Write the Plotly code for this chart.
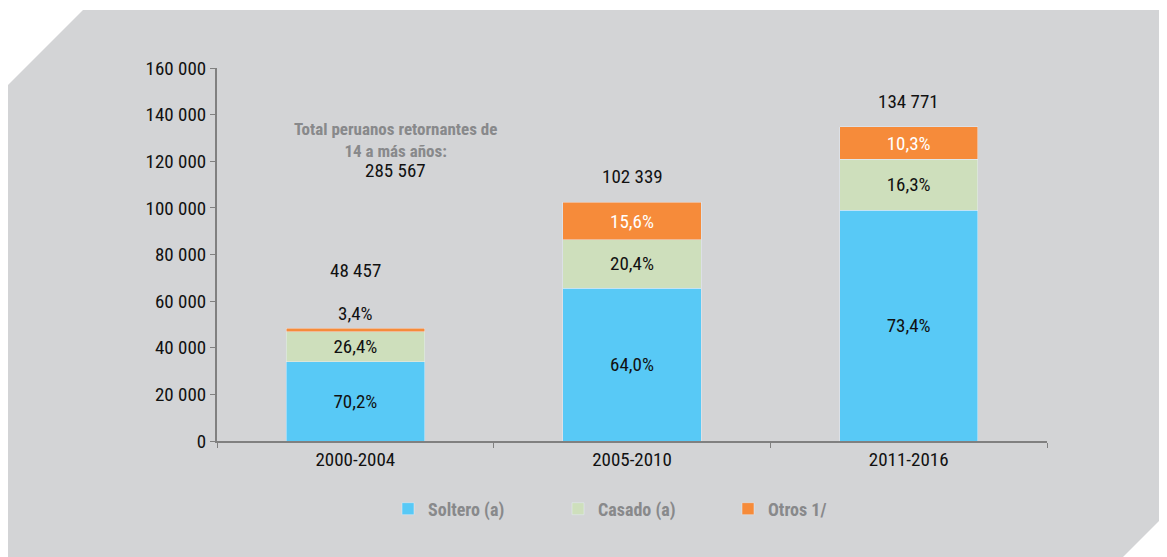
import plotly.graph_objects as go

categories = ["2000-2004", "2005-2010", "2011-2016"]
soltero = [34017, 65497, 98922]
casado = [12793, 20877, 21968]
otros = [1648, 15965, 13881]
totals = [48457, 102339, 134771]
soltero_pct = ["70,2%", "64,0%", "73,4%"]
casado_pct = ["26,4%", "20,4%", "16,3%"]
otros_pct = ["3,4%", "15,6%", "10,3%"]
total_labels = ["48 457", "102 339", "134 771"]
y_ticks = [0, 20000, 40000, 60000, 80000, 100000, 120000, 140000, 160000]
y_tick_labels = ["0", "20 000", "40 000", "60 000", "80 000", "100 000", "120 000", "140 000", "160 000"]

FONT = "Liberation Sans Narrow, Roboto Condensed, Arial Narrow, Liberation Sans, sans-serif"
BLUE = "#58C9F6"
GREEN = "#CEDFBC"
ORANGE = "#F68B3A"
BG = "#D3D4D6"
GREY_TXT = "#88898B"
FS = 19

# page body has an 8px margin; work in page pixels and convert
OFF = 8
W, H = 1167, 557
L, R, T, B = 217 - OFF, 128, 68 - OFF, 124
pw, ph = W - L - R, H - T - B

def px(x):
    return (x - OFF - L) / pw

def py(y):
    return (H - B - (y - OFF)) / ph

fig = go.Figure()
fig.add_trace(go.Bar(x=categories, y=soltero, name="Soltero (a)", marker_color=BLUE,
                     text=soltero_pct, textposition="inside", insidetextanchor="middle",
                     textfont=dict(color="#111111", size=FS, family=FONT)))
fig.add_trace(go.Bar(x=categories, y=casado, name="Casado (a)", marker_color=GREEN,
                     text=casado_pct, textposition="inside", insidetextanchor="middle",
                     textfont=dict(color="#111111", size=FS, family=FONT)))
fig.add_trace(go.Bar(x=categories, y=otros, name="Otros 1/", marker_color=ORANGE,
                     text=otros_pct, textposition=["outside", "inside", "inside"],
                     insidetextanchor="middle",
                     textfont=dict(color=["#111111", "white", "white"], size=FS, family=FONT),
                     cliponaxis=False))

shift = [44, 12, 12]
for c, t, lab, s in zip(categories, totals, total_labels, shift):
    fig.add_annotation(x=c, y=t, text=lab, showarrow=False, yanchor="bottom", yshift=s,
                       font=dict(size=FS, color="#111111", family=FONT))

fig.add_annotation(xref="paper", yref="paper", x=px(395), y=py(140),
                   xanchor="center", yanchor="middle",
                   text="<b>Total peruanos retornantes de<br>14 a más años:</b>",
                   showarrow=False, font=dict(size=17, color=GREY_TXT, family=FONT),
                   align="center")
fig.add_annotation(xref="paper", yref="paper", x=px(395), y=py(170),
                   xanchor="center", yanchor="middle",
                   text="285 567", showarrow=False,
                   font=dict(size=FS, color="#111111", family=FONT))

pts = [(83, 10), (1180, 10), (1180, 500), (1113, 567), (8, 567), (8, 85)]
path = "M " + " L ".join(f"{px(a):.5f},{py(b):.5f}" for a, b in pts) + " Z"
fig.add_shape(type="path", path=path, xref="paper", yref="paper",
              fillcolor=BG, line=dict(width=0), layer="below")

fig.update_layout(
    width=W, height=H,
    margin=dict(l=L, r=R, t=T, b=B, autoexpand=False),
    barmode="stack", bargap=0.5,
    paper_bgcolor="white", plot_bgcolor="rgba(0,0,0,0)",
    font=dict(family=FONT, size=FS, color="#111111"),
    showlegend=True,
    legend=dict(orientation="h", x=px(388), y=py(509), yanchor="middle", xanchor="left",
                bgcolor="rgba(0,0,0,0)", traceorder="normal",
                entrywidth=125, entrywidthmode="pixels",
                font=dict(size=18, color=GREY_TXT, family=FONT, weight="bold")),
)
fig.update_xaxes(showline=True, linecolor="#808080", linewidth=2, ticks="outside",
                 tickson="boundaries", ticklen=5, tickcolor="#808080", tickwidth=1,
                 showgrid=False, tickfont=dict(size=FS, color="#111111"))
fig.update_yaxes(range=[0, 160000], tickvals=y_ticks, ticktext=y_tick_labels,
                 showline=True, linecolor="#808080", linewidth=2, ticks="outside",
                 ticklen=5, tickcolor="#808080", showgrid=False, zeroline=False,
                 tickfont=dict(size=FS, color="#111111"))

fig.write_html("out.html")
